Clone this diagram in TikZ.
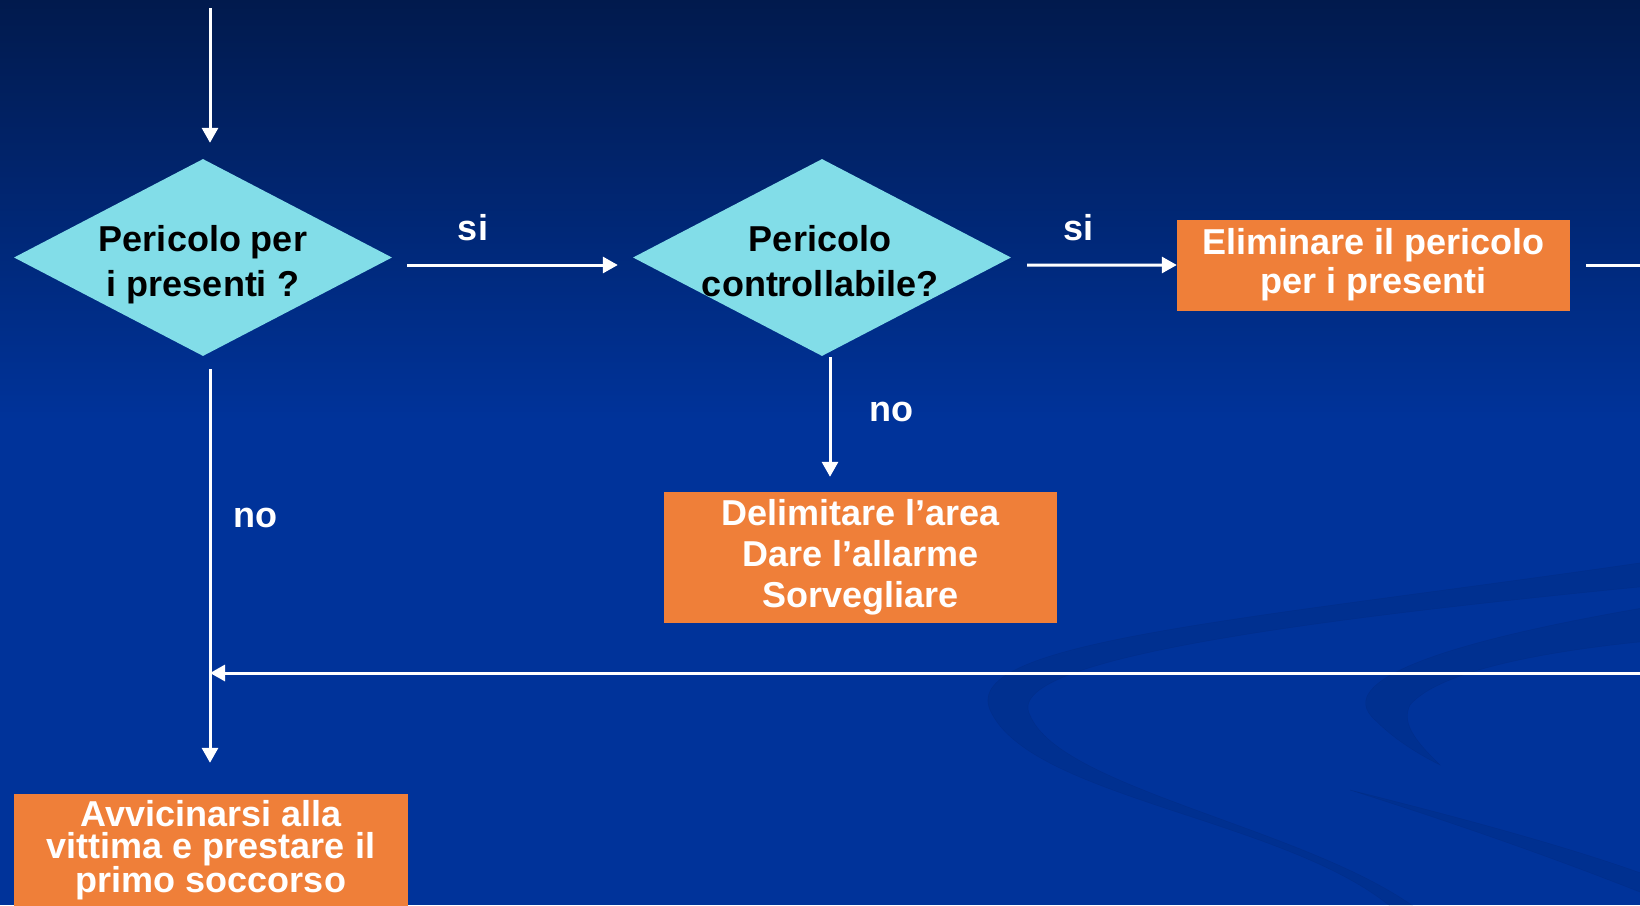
\documentclass[tikz,border=0pt]{standalone}
\usepackage{fontspec}
\setmainfont{Liberation Sans}
\usetikzlibrary{shapes.geometric,arrows.meta}
\definecolor{bgtop}{HTML}{011A4D}
\definecolor{bgmid}{HTML}{00339A}
\definecolor{cyanfill}{HTML}{82DDE8}
\definecolor{orangefill}{HTML}{EF7F39}
\tikzset{
  decision/.style={diamond,fill=cyanfill,draw=none,inner sep=0pt,aspect=1.92,minimum width=378bp,minimum height=197bp},
  dtext/.style={text=black,font=\fontsize{36bp}{45bp}\selectfont\bfseries,align=center,inner sep=0pt},
  actbox/.style={rectangle,fill=orangefill,draw=none,text=white,inner sep=0pt,minimum width=393bp,align=center},
  lbl/.style={text=white,font=\fontsize{36bp}{40bp}\selectfont\bfseries,inner sep=0pt},
  arr/.style={draw=white,line width=3bp,-{Triangle[width=16bp,length=15bp]}},
  swirl/.style={draw=black,opacity=0.06}
}
\begin{document}
\begin{tikzpicture}[x=1bp,y=-1bp]
\useasboundingbox (0,0) rectangle (1640,905);
% background
\fill[top color=bgtop,bottom color=bgmid] (0,0) rectangle (1640,420);
\fill[bgmid] (0,419) rectangle (1640,905);
% faint swirls
\fill[swirl] (1660,560) .. controls (1250,620) and (960,640) .. (990,710) .. controls (1030,800) and (1300,820) .. (1400,915)
  -- (1425,915) .. controls (1320,830) and (1060,790) .. (1030,715) .. controls (1000,660) and (1300,620) .. (1660,585) -- cycle;
\fill[swirl] (1660,605) .. controls (1450,640) and (1330,680) .. (1375,720) .. controls (1390,735) and (1410,750) .. (1440,765)
  .. controls (1420,745) and (1400,725) .. (1410,705) .. controls (1440,670) and (1550,650) .. (1660,640) -- cycle;
\fill[swirl] (1350,790) .. controls (1470,820) and (1580,850) .. (1660,880) -- (1660,900) .. controls (1560,860) and (1460,825) .. (1350,790) -- cycle;
% nodes
\node[decision] (d1) at (203,257.5) {};
\node[dtext] (d1t) at (203,265) {Pericolo per\\i presenti ?};
\node[decision] (d2) at (822,257.5) {};
\node[dtext] (d2t) at (820,261) {Pericolo\\controllabile?};
\node[actbox,minimum height=91bp,font=\fontsize{36bp}{39bp}\selectfont\bfseries] (elim) at (1373.5,265) {Eliminare il pericolo\\per i presenti};
\node[actbox,minimum height=131bp,font=\fontsize{36bp}{41bp}\selectfont\bfseries] (delim) at (860.5,557.5) {Delimitare l’area\\Dare l’allarme\\Sorvegliare};
\node[actbox,minimum height=112bp,minimum width=394bp,font=\fontsize{36bp}{32bp}\selectfont\bfseries] (avv) at (211,850) {Avvicinarsi alla\\vittima e prestare il\\primo soccorso};
% labels
\node[lbl] (si1) at (473,228) {si};
\node[lbl] (si2) at (1078,228) {si};
\node[lbl] (no1) at (255,518) {no};
\node[lbl] (no2) at (891,412) {no};
% coordinates
\coordinate (start) at (210,8);
\coordinate (re1) at (1650,265);
\coordinate (re2) at (1650,673);
\coordinate (join) at (210,673);
% connectors
\draw[arr] (start) -- ([shift={(7,-16)}]d1.north);
\draw[arr] ([shift={(15,7.5)}]d1.east) -- ([shift={(-15,7.5)}]d2.west);
\draw[arr] ([shift={(16,7.5)}]d2.east) -- (elim.west);
\draw[arr] ([xshift=16bp]elim.east) -- (re1) -- (re2) -- (join);
\draw[arr] ([shift={(7,13)}]d1.south) -- ([shift={(-1,-31)}]avv.north);
\draw[arr] ([shift={(8,1)}]d2.south) -- ([shift={(-30.5,-15)}]delim.north);
\end{tikzpicture}
\end{document}
